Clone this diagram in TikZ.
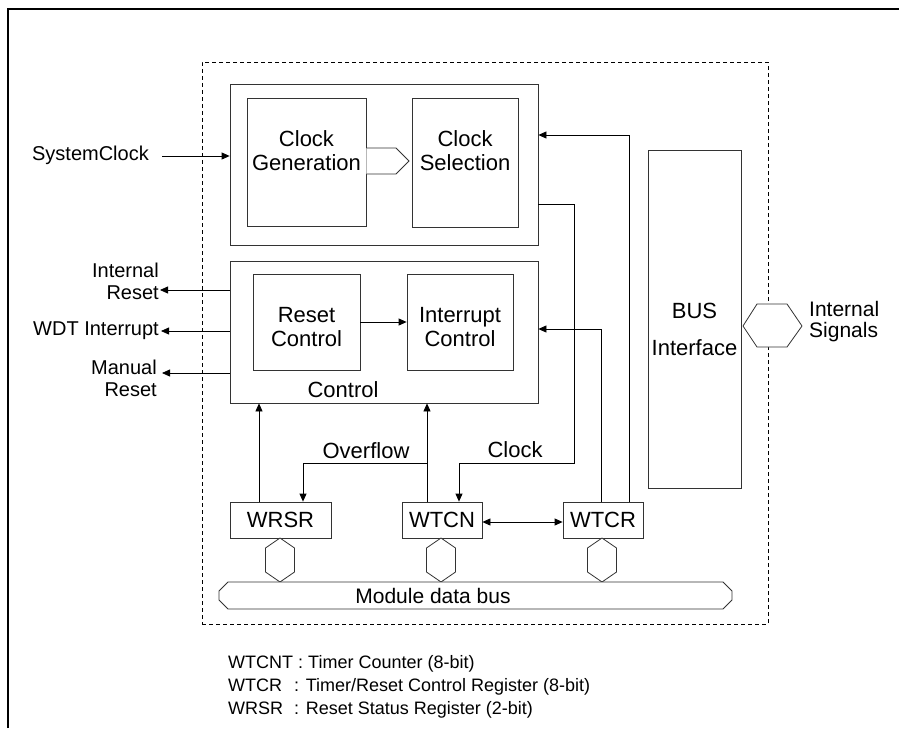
\documentclass[tikz,border=0pt]{standalone}
\usepackage{fontspec}
\setmainfont{Liberation Sans}
\usetikzlibrary{arrows.meta,calc}
\begin{document}
\begin{tikzpicture}[x=1pt,y=-1pt,
  box/.style={draw=black!80, line width=0.8pt, inner sep=0pt},
  arr/.style={draw=black, line width=0.8pt, -{Triangle[length=8pt,width=7pt]}},
  arrb/.style={draw=black, line width=0.8pt, {Triangle[length=8pt,width=7pt]}-{Triangle[length=8pt,width=7pt]}},
  lbl/.style={inner sep=0pt, font=\fontsize{22}{24}\selectfont, align=center},
  side/.style={inner sep=0pt, font=\fontsize{20}{22}\selectfont, align=right},
  dashbox/.style={draw=black, line width=0.8pt, dash pattern=on 4pt off 3pt, inner sep=0pt},
  hexs/.style={draw=black!80, line width=0.8pt, fill=white},
  ]
\useasboundingbox (0,0) rectangle (899,728);
\fill[white] (0,0) rectangle (899,728);
\draw[line width=1.4pt] (8,728) -- (8,9) -- (899,9);

% module boundary
\node[dashbox, minimum width=566pt, minimum height=562pt] (module) at (485,343) {};

% clock block
\node[box, minimum width=308pt, minimum height=161pt] (clockouter) at (384,164.5) {};
\node[box, minimum width=119pt, minimum height=128pt] (gen) at (306.5,162) {};
\node[box, minimum width=106pt, minimum height=129pt] (sel) at (465,162.5) {};
\node[lbl] (gentext) at (306.5,151) {Clock\\Generation};
\node[lbl] (seltext) at (465,151) {Clock\\Selection};
\draw[box, fill=white] (gen.east |- 0,148) -- (396,148) -- (409,161) -- (396,174) -- (gen.east |- 0,174);

\node[side, anchor=east] (sysclk) at (149,155) {SystemClock};
\draw[arr] ([xshift=13pt,yshift=-1pt]sysclk.east) -- (clockouter.west |- 0,156);

% control block
\node[box, minimum width=308pt, minimum height=142pt] (ctrlouter) at (384,332) {};
\node[box, minimum width=107pt, minimum height=96pt] (rst) at (306.5,322) {};
\node[box, minimum width=106pt, minimum height=96pt] (intc) at (460,322) {};
\node[lbl] (rsttext) at (306.5,327) {Reset\\Control};
\node[lbl] (intctext) at (460,327) {Interrupt\\Control};
\node[lbl] (ctrltext) at (343,390) {Control};
\draw[arr] (rst.east) -- (intc.west);

% outputs
\node[side, anchor=east] (intrst) at (159,281) {Internal\\Reset};
\node[side, anchor=east] (wdt) at (159,331) {WDT Interrupt};
\node[side, anchor=east] (manrst) at (157,378) {Manual\\Reset};
\draw[arr] ([yshift=42pt]ctrlouter.west) -- ([xshift=1pt]intrst.east |- 0,290);
\draw[arr] ([yshift=1pt]ctrlouter.west) -- ([xshift=2pt]wdt.east);
\draw[arr] ([yshift=-41pt]ctrlouter.west) -- ([xshift=5pt]manrst.east |- 0,373);

% registers
\node[box, font=\fontsize{22}{24}\selectfont, minimum width=101pt, minimum height=36pt] (wrsr) at (280.5,520) {WRSR};
\node[box, font=\fontsize{22}{24}\selectfont, minimum width=80pt, minimum height=36pt] (wtcn) at (442,520) {WTCN};
\node[box, font=\fontsize{22}{24}\selectfont, minimum width=80pt, minimum height=36pt] (wtcr) at (603,520) {WTCR};

\coordinate (ovf) at (427,463);
\draw[arr] ([xshift=-21.5pt]wrsr.north) -- ([xshift=-21.5pt]wrsr.north |- ctrlouter.south);
\draw[arr] ([xshift=-15pt]wtcn.north) -- ([xshift=-15pt]wtcn.north |- ctrlouter.south);
\draw[arr] (ovf) -| ([xshift=22.5pt]wrsr.north);
\node[lbl] (ovflbl) at (366,451) {Overflow};
\draw[arr] ([yshift=-39.5pt]clockouter.east) -| (574,463) -| ([xshift=17pt]wtcn.north);
\node[lbl] (clklbl) at (515,450) {Clock};
\draw[arr] ([xshift=26pt]wtcr.north) |- ([yshift=29.5pt]clockouter.east);
\draw[arr] ([xshift=-2pt]wtcr.north) |- ([yshift=3pt]ctrlouter.east);
\draw[arrb] ([yshift=-2pt]wtcn.east) -- ([yshift=-2pt]wtcr.west);

% register-to-bus hexagons
\foreach \c in {280,441,602}
  \draw[hexs] (\c,538) -- (\c+14.5,548) -- (\c+14.5,572) -- (\c,582) -- (\c-14.5,572) -- (\c-14.5,548) -- cycle;

% module data bus
\draw[hexs] (228,582) -- (723,582) -- (732,591) -- (732,600) -- (723,609) -- (228,609) -- (219,600) -- (219,591) -- cycle;
\node[lbl, font=\fontsize{21}{21}\selectfont] (mdb) at (433,595.5) {Module data bus};

% bus interface
\node[box, minimum width=93pt, minimum height=338pt] (busif) at (694.5,319) {};
\node[lbl] (bustext) at (694.5,311) {BUS};
\node[lbl] (iftext) at (694.5,348) {Interface};

% internal signals
\draw[hexs] (743,326) -- (757,304) -- (787,304) -- (802,326) -- (787,347) -- (757,347) -- cycle;
\node[lbl, anchor=west, align=left, font=\fontsize{21}{21}\selectfont] (intsig) at (809,322) {Internal\\Signals};

% legend
\node[anchor=north west, inner sep=0pt, align=left, font=\fontsize{18}{23}\selectfont] (legend) at (228,655)
  {WTCNT : Timer Counter (8-bit)\\\makebox[66pt][l]{WTCR}: Timer/Reset Control Register (8-bit)\\\makebox[66pt][l]{WRSR}: Reset Status Register (2-bit)};
\end{tikzpicture}
\end{document}
